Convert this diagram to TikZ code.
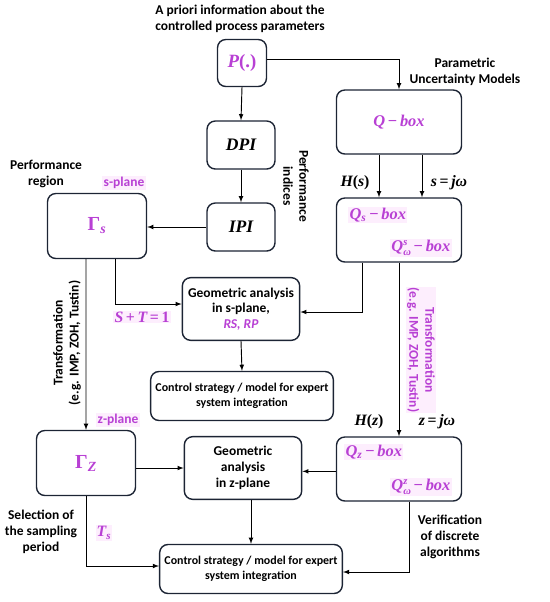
\documentclass[tikz,border=0pt]{standalone}
\usepackage{fontspec}
\setmainfont{Carlito}
\newfontfamily\mathfnt{Liberation Serif}
\usetikzlibrary{%
  arrows,%
  positioning% wg. " of "
}
\definecolor{navy}{RGB}{28,36,52}
\definecolor{mag}{RGB}{184,64,212}
\definecolor{hlpink}{RGB}{253,238,253}
% bold italic / bold upright symbols
\newcommand{\mi}[1]{{\mathfnt\bfseries\itshape #1}}
\newcommand{\mup}[1]{{\mathfnt\bfseries #1}}
\newcommand{\supsub}[2]{\rlap{\raisebox{0.75ex}{\fontsize{9}{9}\selectfont\mi{#1}}}\raisebox{-0.55ex}{\fontsize{9}{9}\selectfont\mi{#2}}}

\begin{document}
\begin{tikzpicture}
[x=0.03cm, y=-0.03cm, font=\bfseries\fontsize{11.5}{13.6}\selectfont, line width=0.8pt, >=latex,
rbox/.style={rectangle, rounded corners=2.5mm, draw=navy, line width=1.2pt, align=center, inner sep=1pt},
pbox/.style={rbox, minimum width=1.47cm, minimum height=1.41cm},
ibox/.style={rbox, minimum width=2.04cm, minimum height=1.44cm},
qbox/.style={rbox, minimum width=3.75cm, minimum height=1.92cm},
gbox/.style={rbox, minimum width=2.97cm, minimum height=1.95cm},
abox/.style={rbox, minimum width=3.52cm, minimum height=1.88cm, font=\bfseries\fontsize{11.5}{13.4}\selectfont},
cbox/.style={rbox, minimum width=5.48cm, minimum height=1.47cm, font=\bfseries\fontsize{10.2}{12.6}\selectfont},
txt/.style={align=center, inner sep=1pt},
mtxt/.style={align=center, inner sep=1pt, text=mag, fill=hlpink},
arr/.style={->, draw=black}
]
\useasboundingbox (0,0) rectangle (550,602);

% boxes
\node[pbox, text=mag, font=\fontsize{16}{18}\selectfont] (P) at (242,63) {\mi{P}\mup{(.)}};
\node[ibox, font=\fontsize{15}{18}\selectfont] (DPI) at (241,145) {\mi{DPI}};
\node[ibox, font=\fontsize{15}{18}\selectfont] (IPI) at (241,227) {\mi{IPI}};
\node[qbox, text=mag, font=\fontsize{14}{16}\selectfont] (Q) at (399,122) {\mi{Q}\,\mup{−}\,\mi{box}};
\node[qbox] (Qs) at (399,230) {};
\node[gbox, text=mag, font=\fontsize{17}{19}\selectfont] (Gs) at (97,226) {\mup{Γ}\textsubscript{\mi{s}}};
\node[abox] (geoS) at (241,309) {Geometric analysis\\in s-plane,\\{\color{mag}\itshape RS, RP}};
\node[cbox] (ctrlS) at (242,396) {Control strategy / model for expert\\system integration};
\node[gbox, text=mag, font=\fontsize{17}{19}\selectfont] (Gz) at (86,463) {\mup{Γ}\textsubscript{\mi{Z}}};
\node[abox] (geoZ) at (243,468) {Geometric\\analysis\\in z-plane};
\node[qbox] (Qz) at (399,469) {};
\node[cbox] (ctrlZ) at (251,569) {Control strategy / model for expert\\system integration};

% texts in the Q boxes
\node[mtxt, anchor=west, font=\fontsize{14}{16}\selectfont] (qsA) at (348,215) {\mi{Q}\textsubscript{\mi{s}}\,\mup{−}\,\mi{box}};
\node[mtxt, anchor=east, font=\fontsize{14}{16}\selectfont] (qsB) at (452,248) {\mi{Q}\supsub{s}{ω}\,\mup{−}\,\mi{box}};
\node[mtxt, anchor=west, font=\fontsize{14}{16}\selectfont] (qzA) at (344,452) {\mi{Q}\textsubscript{\mi{z}}\,\mup{−}\,\mi{box}};
\node[mtxt, anchor=east, font=\fontsize{14}{16}\selectfont] (qzB) at (452,487) {\mi{Q}\supsub{z}{ω}\,\mup{−}\,\mi{box}};

% labels
\node[txt] (apriori) at (240,19) {A priori information about the\\controlled process parameters};
\node[txt] (param) at (465,72) {Parametric\\Uncertainty Models};
\node[txt] (perfreg) at (46,174) {Performance\\region};
\node[mtxt] (splane) at (124,183) {s-plane};
\node[txt, rotate=-90] (perfind) at (296,186) {Performance\\indices};
\node[txt, font=\fontsize{13.5}{16}\selectfont] (Hs) at (355,183) {\mi{H}\mup{(}\mi{s}\mup{)}};
\node[txt, font=\fontsize{13.5}{16}\selectfont] (sjw) at (449,183) {\mi{s}\,\mup{=}\,\mi{jω}};
\node[mtxt, font=\fontsize{13.5}{16}\selectfont] (ST) at (142,317) {\mi{S}\,\mup{+}\,\mi{T}\,\mup{=}\,\mup{1}};
\node[txt, rotate=90] (trL) at (67,343) {Transformation\\(e.g. IMP, ZOH, Tustin)};
\node[mtxt, rotate=-90] (trR) at (421,350) {Transformation\\(e.g. IMP, ZOH, Tustin)};
\node[mtxt] (zplane) at (118,420) {z-plane};
\node[txt, font=\fontsize{13.5}{16}\selectfont] (Hz) at (369,422) {\mi{H}\mup{(}\mi{z}\mup{)}};
\node[txt, font=\fontsize{13.5}{16}\selectfont] (zjw) at (437,422) {\mi{z}\,\mup{=}\,\mi{jω}};
\node[txt] (sel) at (41,532) {Selection of\\the sampling\\period};
\node[mtxt, font=\fontsize{13.5}{16}\selectfont] (Ts) at (104,533) {\mi{T}\textsubscript{\mi{s}}};
\node[txt] (verif) at (450,537) {Verification\\of discrete\\algorithms};

% connectors
\draw[arr] ([yshift=0.12cm]P.east) -| (Q.north);
\draw[arr] (P.south) -- (DPI.north);
\draw[arr] (DPI.south) -- (IPI.north);
\draw[arr] (IPI.west) -- (IPI.west -| Gs.east);
\draw[arr] ([xshift=-0.6cm]Q.south) -- ([xshift=-0.6cm]Qs.north);
\draw[arr] ([xshift=0.69cm]Q.south) -- ([xshift=0.69cm]Qs.north);
\draw[arr] ([xshift=0.54cm]Gs.south) |- ([yshift=0.15cm]geoS.west);
\draw[arr] ([xshift=-1.11cm]Qs.south) |- ([yshift=-0.09cm]geoS.east);
\draw[arr] (geoS.south) -- (ctrlS.north);
\draw[arr] ([xshift=-0.33cm]Gs.south) -- (Gz.north);
\draw[arr] (Qs.south) -- (Qz.north);
\draw[arr] (geoZ.west -| Gz.east) -- (geoZ.west);
\draw[arr] ([yshift=-0.1cm]geoZ.east -| Qz.west) -- ([yshift=-0.1cm]geoZ.east);
\draw[arr] (geoZ.south -| ctrlZ.north) -- (ctrlZ.north);
\draw[arr] (Gz.south) |- ([yshift=0.09cm]ctrlZ.west);
\draw[arr] ([xshift=0.3cm]Qz.south) |- ([yshift=-0.09cm]ctrlZ.east);
\end{tikzpicture}
\end{document}
